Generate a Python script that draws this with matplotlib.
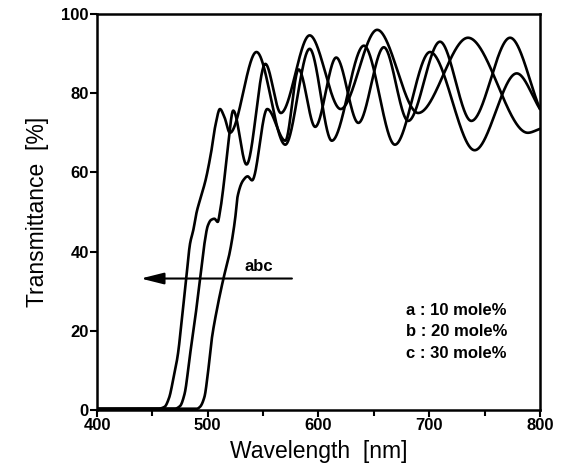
import numpy as np
import matplotlib
matplotlib.use("Agg")
import matplotlib.pyplot as plt

# ---- data (wavelength nm, transmittance %) ----
wl_a = [400, 455, 461, 465, 469, 473, 477, 480.5, 484, 487, 490, 494, 498, 503, 507, 511, 515, 520,
        544, 570, 592, 612, 641, 669, 700.7, 741, 779, 800]
t_a = [0.3, 0.3, 0.8, 3, 8, 14, 24, 33, 42, 45.5, 50, 54, 58, 65, 72, 76, 74, 70,
       90.4, 67, 91.2, 68, 92, 67, 90.4, 65.6, 85, 76]

wl_b = [400, 470, 475, 479, 484, 489, 493, 497, 500, 503, 506, 509, 511, 514, 518, 523,
        535, 552, 566, 592, 620, 653, 690, 735, 789, 800]
t_b = [0.3, 0.3, 1, 4, 14, 24, 33, 42, 46.5, 48, 48.3, 47.5, 50, 56, 66, 75.6,
       62, 87.4, 75, 94.6, 76, 96, 75, 94, 70, 71]

wl_c = [400, 490, 493, 497, 500, 503.5, 508, 514, 520, 524.6, 527, 532, 536, 540,
        553.7, 570, 582, 597, 616, 636, 659, 681, 709.7, 738, 773, 800]
t_c = [0.3, 0.3, 0.8, 3.3, 9, 17.7, 25, 33, 40, 48, 54, 58, 59, 58,
       76, 68, 86, 71.5, 89, 72.5, 91.6, 73, 93, 73, 94, 76]

x_ticks = [400, 500, 600, 700, 800]
y_ticks = [0, 20, 40, 60, 80, 100]
legend_lines = ["a : 10 mole%", "b : 20 mole%", "c : 30 mole%"]


def pchip(x, y, xs):
    """Shape-preserving cubic drawing of a line through the read points."""
    x = np.asarray(x, float)
    y = np.asarray(y, float)
    h = np.diff(x)
    d = np.diff(y) / h
    m = np.zeros_like(y)
    for k in range(1, len(x) - 1):
        if d[k - 1] * d[k] > 0:
            w1 = 2 * h[k] + h[k - 1]
            w2 = h[k] + 2 * h[k - 1]
            m[k] = (w1 + w2) / (w1 / d[k - 1] + w2 / d[k])
    m[0] = d[0]
    m[-1] = d[-1]
    idx = np.clip(np.searchsorted(x, xs) - 1, 0, len(x) - 2)
    t = (xs - x[idx]) / h[idx]
    h00 = 2 * t**3 - 3 * t**2 + 1
    h10 = t**3 - 2 * t**2 + t
    h01 = -2 * t**3 + 3 * t**2
    h11 = t**3 - t**2
    return h00 * y[idx] + h10 * h[idx] * m[idx] + h01 * y[idx + 1] + h11 * h[idx] * m[idx + 1]


plt.rcParams['font.family'] = ['Liberation Sans', 'DejaVu Sans']

fig = plt.figure(figsize=(5.69, 4.71), dpi=100)
ax = fig.add_axes([0.1705, 0.1295, 0.7785, 0.8408])

xs = np.linspace(400, 800, 2001)
for wl, t in [(wl_a, t_a), (wl_b, t_b), (wl_c, t_c)]:
    ax.plot(xs, pchip(wl, t, xs), color='black', lw=1.9, solid_capstyle='round')

ax.set_xlim(400, 800)
ax.set_ylim(0, 100)
ax.set_xticks(x_ticks)
ax.set_xticks([450, 550, 650, 750], minor=True)
ax.set_yticks(y_ticks)
ax.tick_params(axis='both', which='major', direction='out', length=5, width=1.5,
               labelsize=12, pad=1)
ax.tick_params(axis='x', which='minor', direction='out', length=4, width=1.5)
for lab in ax.get_xticklabels() + ax.get_yticklabels():
    lab.set_fontweight('bold')
for s in ax.spines.values():
    s.set_linewidth(1.8)

ax.set_xlabel("Wavelength  [nm]", fontsize=16.5, labelpad=5)
ax.set_ylabel("Transmittance  [%]", fontsize=16.5, labelpad=9)

# arrow with label
ax.annotate("", xy=(439.5, 33.2), xytext=(576, 33.2),
            arrowprops=dict(arrowstyle="-|>,head_length=1.4,head_width=0.35",
                            color='black', lw=1.5, shrinkA=0, shrinkB=0))
ax.text(546, 34.3, "abc", fontsize=12, fontweight='bold', ha='center', va='bottom')

for i, s in enumerate(legend_lines):
    ax.text(679, 25.2 - i * 5.5, s, fontsize=12, fontweight='bold', ha='left', va='center')

fig.savefig("out.png", dpi=100)
